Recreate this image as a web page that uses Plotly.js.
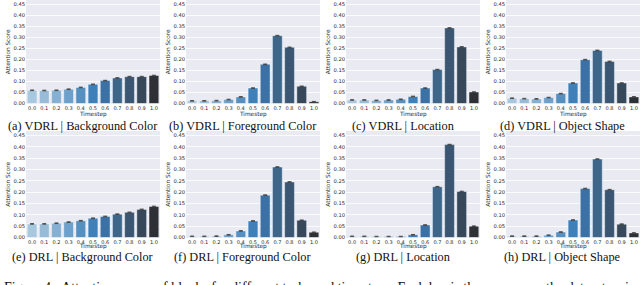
<!DOCTYPE html>
<html>
<head>
<meta charset="utf-8">
<script src="https://cdn.plot.ly/plotly-3.0.1.min.js"></script>
<style>html,body{margin:0;padding:0;background:#fff;}#chart{width:640px;height:285px;}</style>
</head>
<body>
<div id="chart"></div>
<script>
// Timestep categories (x tick labels)
const timesteps = ["0.0","0.1","0.2","0.3","0.4","0.5","0.6","0.7","0.8","0.9","1.0"];

// Attention scores
const vdrlBackground = [0.060, 0.059, 0.060, 0.065, 0.073, 0.087, 0.104, 0.116, 0.122, 0.122, 0.127];
const vdrlForeground = [0.012, 0.012, 0.013, 0.018, 0.030, 0.070, 0.178, 0.308, 0.255, 0.078, 0.008];
const vdrlLocation   = [0.016, 0.016, 0.014, 0.016, 0.019, 0.032, 0.070, 0.154, 0.343, 0.257, 0.052];
const vdrlShape      = [0.024, 0.022, 0.021, 0.027, 0.045, 0.093, 0.199, 0.241, 0.191, 0.093, 0.030];
const drlBackground  = [0.060, 0.060, 0.063, 0.068, 0.074, 0.085, 0.093, 0.103, 0.111, 0.124, 0.137];
const drlForeground  = [0.005, 0.005, 0.006, 0.012, 0.029, 0.073, 0.187, 0.311, 0.245, 0.076, 0.023];
const drlLocation    = [0.005, 0.005, 0.004, 0.004, 0.004, 0.012, 0.055, 0.224, 0.410, 0.203, 0.050];
const drlShape       = [0.006, 0.006, 0.006, 0.010, 0.024, 0.077, 0.216, 0.346, 0.211, 0.059, 0.020];

// Subplot captions and axis titles
const captions = [
  "(a) VDRL | Background Color", "(b) VDRL | Foreground Color", "(c) VDRL | Location", "(d) VDRL | Object Shape",
  "(e) DRL | Background Color", "(f) DRL | Foreground Color", "(g) DRL | Location", "(h) DRL | Object Shape"
];
const xTitle = "Timestep";
const yTitle = "Attention Score";
const figureCaption = "Figure 4:  Attention scores of blocks for different tasks and timesteps. Each bar is the mean over the dataset, using the";

const seriesList = [vdrlBackground, vdrlForeground, vdrlLocation, vdrlShape,
                    drlBackground, drlForeground, drlLocation, drlShape];

// Blues_d-like palette (style)
const palette = ["#a8c8df","#98bcd8","#86b0d2","#6da0ca","#5590c1","#3f80b8",
                 "#3b71a4","#3d6689","#3b5672","#37485b","#2d3136"];

const W = 640, H = 285;
const colOffsets = [0, 160, 320, 480];
const rows = [ {top: 0, bottom: 103.5, ymax: 0.47, titleGap: 10.5, capY: 125.5},
               {top: 131, bottom: 237.5, ymax: 0.47, titleGap: 9.2, capY: 257.2} ];

const data = [];
const layout = {
  width: W, height: H,
  margin: {l: 0, r: 0, t: 0, b: 0},
  paper_bgcolor: "#ffffff",
  plot_bgcolor: "#EAEAF2",
  showlegend: false,
  annotations: [],
  font: {family: "DejaVu Sans", color: "#262626"}
};

seriesList.forEach((vals, i) => {
  const r = Math.floor(i / 4), c = i % 4;
  const row = rows[r];
  const off = colOffsets[c];
  const n = i + 1;
  const sfx = n === 1 ? "" : String(n);
  data.push({
    type: "bar",
    x: timesteps, y: vals,
    xaxis: "x" + sfx, yaxis: "y" + sfx,
    width: 0.8,
    marker: {color: palette, line: {color: "#ffffff", width: 0.4}},
    error_y: {type: "constant", value: 0.0015, color: "#3a3a3a", thickness: 0.8, width: 2},
    hoverinfo: "skip"
  });
  layout["xaxis" + sfx] = {
    domain: [(26 + off) / W, (160 + off) / W],
    anchor: "y" + sfx,
    type: "category",
    range: [-0.5, 10.5],
    showgrid: false, zeroline: false, showline: false, ticks: "",
    tickfont: {size: 5, family: "DejaVu Sans", color: "#262626"},
    fixedrange: true
  };
  layout["yaxis" + sfx] = {
    domain: [1 - row.bottom / H, 1 - row.top / H],
    anchor: "x" + sfx,
    range: [0, row.ymax],
    tickmode: "linear", tick0: 0, dtick: 0.05,
    tickformat: ".2f",
    showgrid: true, gridcolor: "#ffffff", gridwidth: 0.8,
    zeroline: false, showline: false, ticks: "",
    tickfont: {size: 5.2, family: "DejaVu Sans", color: "#262626"},
    title: {text: yTitle, font: {size: 5.8, family: "DejaVu Sans", color: "#262626"}, standoff: 2},
    fixedrange: true
  };
  // x-axis title placed just under the tick labels
  layout.annotations.push({
    xref: "paper", yref: "paper",
    x: (93 + off) / W, y: 1 - (row.bottom + row.titleGap) / H,
    xanchor: "center", yanchor: "middle",
    text: xTitle, showarrow: false, borderpad: 0,
    font: {size: 5.8, family: "DejaVu Sans", color: "#262626"}
  });
  layout.annotations.push({
    xref: "paper", yref: "paper",
    x: (82.5 + off) / W, y: 1 - row.capY / H,
    xanchor: "center", yanchor: "middle",
    text: captions[i], showarrow: false, borderpad: 0,
    font: {family: "Liberation Serif", size: 12.3, color: "#111111"}
  });
});

layout.annotations.push({
  xref: "paper", yref: "paper",
  x: 2 / W, y: 1 - 278 / H,
  xanchor: "left", yanchor: "top",
  text: figureCaption, showarrow: false,
  font: {family: "Liberation Serif", size: 14, color: "#111111"}
});

Plotly.newPlot("chart", data, layout, {staticPlot: true, displayModeBar: false});
</script>
</body>
</html>
